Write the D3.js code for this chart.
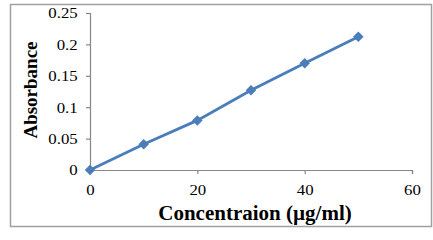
<!DOCTYPE html>
<meta charset="utf-8">
<style>
  body { margin: 0; background: #fff; }
  svg text { font-family: "Liberation Serif", "Times New Roman", serif; }
</style>
<script src="https://d3js.org/d3.v7.min.js"></script>
<div id="chart"></div>
<script>
// data
var concentration = [0, 10, 20, 30, 40, 50];
var absorbance = [0, 0.041, 0.079, 0.127, 0.170, 0.212];
var xTicks = [0, 20, 40, 60];
var yTicks = [0, 0.05, 0.1, 0.15, 0.2, 0.25];

var W = 433, H = 240;
var margin = {top: 13, right: 21, bottom: 70, left: 90};

var svg = d3.select("#chart").append("svg")
  .attr("width", W).attr("height", H);

// outer frame
svg.append("rect")
  .attr("x", 10.5).attr("y", 4.5)
  .attr("width", 421).attr("height", 222)
  .attr("fill", "none").attr("stroke", "#a0a0a0").attr("stroke-width", 1.5);

var x = d3.scaleLinear().domain([0, 60]).range([margin.left, W - margin.right]);
var y = d3.scaleLinear().domain([0, 0.25]).range([H - margin.bottom, margin.top]);

var axisColor = "#878787";

// y axis
var gy = svg.append("g")
  .attr("transform", "translate(" + margin.left + ",0)")
  .call(d3.axisLeft(y).tickValues(yTicks).tickSize(4).tickPadding(7)
    .tickFormat(function(d) { return d3.format("")(+d.toFixed(2)); }));
gy.selectAll("text").style("font-size", "15px").attr("fill", "#000")
  .attr("transform", "scale(1.12,1)");

// x axis
var gx = svg.append("g")
  .attr("transform", "translate(0," + y(0) + ")")
  .call(d3.axisBottom(x).tickValues(xTicks).tickSize(4).tickPadding(10));
gx.selectAll("text").style("font-size", "15px").attr("fill", "#000")
  .attr("transform", "scale(1.12,1)");

[gx, gy].forEach(function(g) {
  g.select(".domain").attr("stroke", axisColor).attr("stroke-width", 1.2);
  g.selectAll(".tick line").attr("stroke", axisColor).attr("stroke-width", 1.2);
});

// line
var pts = concentration.map(function(c, i) { return [c, absorbance[i]]; });
svg.append("path")
  .datum(pts)
  .attr("fill", "none")
  .attr("stroke", "#4a7ebb")
  .attr("stroke-width", 2.8)
  .attr("d", d3.line().x(function(d) { return x(d[0]); }).y(function(d) { return y(d[1]); }));

// diamond markers
svg.selectAll(".marker")
  .data(pts).enter().append("path")
  .attr("class", "marker")
  .attr("transform", function(d) { return "translate(" + x(d[0]) + "," + y(d[1]) + ")"; })
  .attr("d", d3.symbol().type(d3.symbolDiamond2).size(70))
  .attr("fill", "#4a7ebb");

// axis titles
svg.append("text")
  .attr("transform", "translate(255,220) scale(1.05,1)")
  .attr("text-anchor", "middle")
  .style("font-size", "20px").style("font-weight", "bold")
  .text("Concentraion (µg/ml)");

svg.append("text")
  .attr("transform", "translate(37,90) rotate(-90)")
  .attr("text-anchor", "middle")
  .style("font-size", "19px").style("font-weight", "bold")
  .text("Absorbance");
</script>
